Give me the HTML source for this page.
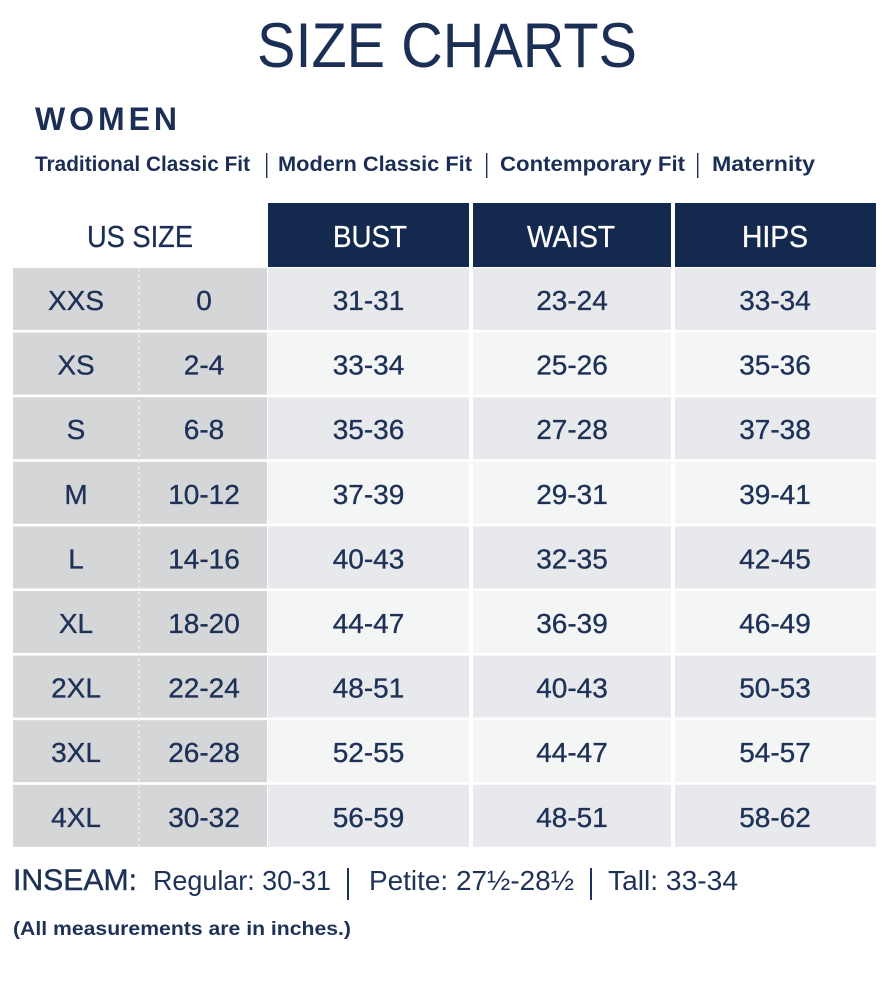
<!DOCTYPE html>
<html><head><meta charset="utf-8"><style>
html,body{margin:0;padding:0;background:#fff;}
svg{display:block;}
text{font-family:"Liberation Sans",sans-serif;}
</style></head><body>
<svg width="887" height="1000" viewBox="0 0 887 1000" xmlns="http://www.w3.org/2000/svg">
<rect width="887" height="1000" fill="#fff"/>
<g fill="#1b2f56">
<text x="257" y="67" font-size="63" textLength="380" lengthAdjust="spacingAndGlyphs">SIZE CHARTS</text>
<text x="35" y="130" font-size="32" font-weight="bold" textLength="142" lengthAdjust="spacing">WOMEN</text>
<g font-size="21" font-weight="bold">
<text x="35" y="171" textLength="215" lengthAdjust="spacingAndGlyphs">Traditional Classic Fit</text>
<text x="278" y="171" textLength="194" lengthAdjust="spacingAndGlyphs">Modern Classic Fit</text>
<text x="500" y="171" textLength="185" lengthAdjust="spacingAndGlyphs">Contemporary Fit</text>
<text x="712" y="171" textLength="103" lengthAdjust="spacingAndGlyphs">Maternity</text>
</g>
<rect x="266" y="153" width="1.4" height="25"/>
<rect x="486" y="153" width="1.4" height="25"/>
<rect x="697" y="153" width="1.4" height="25"/>
<text x="87" y="247" font-size="31" stroke="#1b2f56" stroke-width="0.3" textLength="106" lengthAdjust="spacingAndGlyphs">US SIZE</text>
</g>
<g fill="#14294e">
<rect x="268" y="203" width="201" height="64"/>
<rect x="473" y="203" width="198" height="64"/>
<rect x="675" y="203" width="201" height="64"/>
</g>
<g fill="#fff" font-size="31" stroke="#fff" stroke-width="0.3">
<text x="333" y="247" textLength="74" lengthAdjust="spacingAndGlyphs">BUST</text>
<text x="527" y="247" textLength="88" lengthAdjust="spacingAndGlyphs">WAIST</text>
<text x="742" y="247" textLength="66" lengthAdjust="spacingAndGlyphs">HIPS</text>
</g>
<g id="rows">
<g fill="#d5d6d8">
<rect x="13" y="268" width="254" height="62"/>
<rect x="13" y="332.6" width="254" height="62"/>
<rect x="13" y="397.2" width="254" height="62"/>
<rect x="13" y="461.8" width="254" height="62"/>
<rect x="13" y="526.4" width="254" height="62"/>
<rect x="13" y="591" width="254" height="62"/>
<rect x="13" y="655.6" width="254" height="62"/>
<rect x="13" y="720.2" width="254" height="62"/>
<rect x="13" y="784.8" width="254" height="62"/>
</g>
<g fill="#e8e9ec">
<rect x="268" y="268" width="201" height="62"/><rect x="473" y="268" width="198" height="62"/><rect x="675" y="268" width="201" height="62"/>
<rect x="268" y="397.2" width="201" height="62"/><rect x="473" y="397.2" width="198" height="62"/><rect x="675" y="397.2" width="201" height="62"/>
<rect x="268" y="526.4" width="201" height="62"/><rect x="473" y="526.4" width="198" height="62"/><rect x="675" y="526.4" width="201" height="62"/>
<rect x="268" y="655.6" width="201" height="62"/><rect x="473" y="655.6" width="198" height="62"/><rect x="675" y="655.6" width="201" height="62"/>
<rect x="268" y="784.8" width="201" height="62"/><rect x="473" y="784.8" width="198" height="62"/><rect x="675" y="784.8" width="201" height="62"/>
</g>
<g fill="#f4f6f6">
<rect x="268" y="332.6" width="201" height="62"/><rect x="473" y="332.6" width="198" height="62"/><rect x="675" y="332.6" width="201" height="62"/>
<rect x="268" y="461.8" width="201" height="62"/><rect x="473" y="461.8" width="198" height="62"/><rect x="675" y="461.8" width="201" height="62"/>
<rect x="268" y="591" width="201" height="62"/><rect x="473" y="591" width="198" height="62"/><rect x="675" y="591" width="201" height="62"/>
<rect x="268" y="720.2" width="201" height="62"/><rect x="473" y="720.2" width="198" height="62"/><rect x="675" y="720.2" width="201" height="62"/>
</g>
<line x1="139" y1="268" x2="139" y2="847" stroke="#eeeeee" stroke-width="1.5" stroke-dasharray="3,3"/>
</g>
<g fill="#1e3157" stroke="#1e3157" stroke-width="0.35" font-size="28" text-anchor="middle">
<text x="76" y="310">XXS</text><text x="204" y="310">0</text><text x="368.5" y="310">31-31</text><text x="572" y="310">23-24</text><text x="775" y="310">33-34</text>
<text x="76" y="374.6">XS</text><text x="204" y="374.6">2-4</text><text x="368.5" y="374.6">33-34</text><text x="572" y="374.6">25-26</text><text x="775" y="374.6">35-36</text>
<text x="76" y="439.2">S</text><text x="204" y="439.2">6-8</text><text x="368.5" y="439.2">35-36</text><text x="572" y="439.2">27-28</text><text x="775" y="439.2">37-38</text>
<text x="76" y="503.8">M</text><text x="204" y="503.8">10-12</text><text x="368.5" y="503.8">37-39</text><text x="572" y="503.8">29-31</text><text x="775" y="503.8">39-41</text>
<text x="76" y="568.4">L</text><text x="204" y="568.4">14-16</text><text x="368.5" y="568.4">40-43</text><text x="572" y="568.4">32-35</text><text x="775" y="568.4">42-45</text>
<text x="76" y="633">XL</text><text x="204" y="633">18-20</text><text x="368.5" y="633">44-47</text><text x="572" y="633">36-39</text><text x="775" y="633">46-49</text>
<text x="76" y="697.6">2XL</text><text x="204" y="697.6">22-24</text><text x="368.5" y="697.6">48-51</text><text x="572" y="697.6">40-43</text><text x="775" y="697.6">50-53</text>
<text x="76" y="762.2">3XL</text><text x="204" y="762.2">26-28</text><text x="368.5" y="762.2">52-55</text><text x="572" y="762.2">44-47</text><text x="775" y="762.2">54-57</text>
<text x="76" y="826.8">4XL</text><text x="204" y="826.8">30-32</text><text x="368.5" y="826.8">56-59</text><text x="572" y="826.8">48-51</text><text x="775" y="826.8">58-62</text>
</g>
<g fill="#1e3157">
<text x="13" y="890" font-size="30" stroke="#1e3157" stroke-width="0.4" textLength="124" lengthAdjust="spacingAndGlyphs">INSEAM:</text>
<text x="153" y="890" font-size="28" textLength="178" lengthAdjust="spacingAndGlyphs">Regular: 30-31</text>
<rect x="347" y="868" width="2" height="32"/>
<text x="369" y="890" font-size="28" textLength="205" lengthAdjust="spacingAndGlyphs">Petite: 27½-28½</text>
<rect x="590" y="868" width="2" height="32"/>
<text x="608" y="890" font-size="28" textLength="130" lengthAdjust="spacingAndGlyphs">Tall: 33-34</text>
<text x="13" y="935" font-size="19" font-weight="bold" textLength="338" lengthAdjust="spacingAndGlyphs">(All measurements are in inches.)</text>
</g>
</svg>
</body></html>
